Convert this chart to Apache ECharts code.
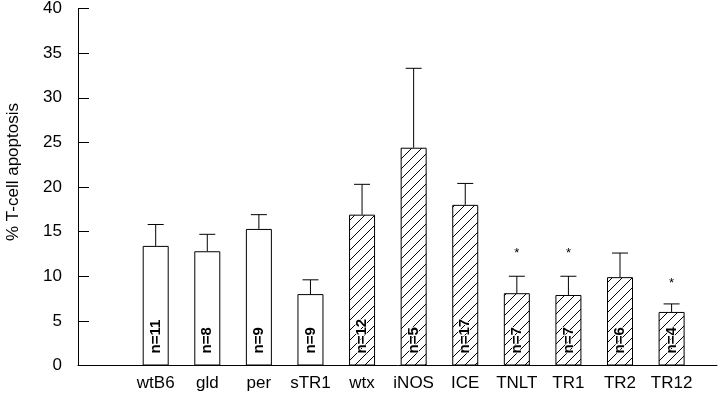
<!DOCTYPE html>
<html>
<head>
<meta charset="utf-8">
<script src="https://cdn.jsdelivr.net/npm/echarts@6/dist/echarts.min.js"></script>
<style>html,body{margin:0;padding:0;background:#fff}#c{width:720px;height:396px}</style>
</head>
<body>
<div id="c"></div>
<script>
const categories = ['wtB6','gld','per','sTR1','wtx','iNOS','ICE','TNLT','TR1','TR2','TR12'];
const means = [13.4, 12.8, 15.3, 8.0, 16.9, 24.4, 18.0, 8.1, 7.9, 9.9, 6.0];
const sem = [2.4, 1.9, 1.6, 1.6, 3.4, 8.9, 2.4, 1.9, 2.1, 2.7, 0.9];
const nLabels = ['n=11','n=8','n=9','n=9','n=12','n=5','n=17','n=7','n=7','n=6','n=4'];
const hatched = [false,false,false,false,true,true,true,true,true,true,true];
const starValues = [null,null,null,null,null,null,null,12.9,12.9,null,9.5];

// hatch pattern
const s = 10;
const cv = document.createElement('canvas');
cv.width = s; cv.height = s;
const cx = cv.getContext('2d');
cx.fillStyle = '#fff'; cx.fillRect(0,0,s,s);
cx.strokeStyle = '#000'; cx.lineWidth = 1;
cx.beginPath();
cx.moveTo(0,s); cx.lineTo(s,0);
cx.moveTo(-1,1); cx.lineTo(1,-1);
cx.moveTo(s-1,s+1); cx.lineTo(s+1,s-1);
cx.stroke();

const FONT = 'Liberation Sans, Arial, sans-serif';
const chart = echarts.init(document.getElementById('c'), null, {renderer:'canvas'});
const barData = categories.map((c,i)=>({
  value:[i, means[i]],
  itemStyle:{color: hatched[i] ? {image: cv, repeat:'repeat'} : '#fff', borderColor:'#000', borderWidth:1},
  label: hatched[i] ? {textBorderColor:'#fff', textBorderWidth:1.5} : {}
}));
const errData = categories.map((c,i)=>[i, means[i], sem[i]]);
const starData = starValues.map((v,i)=> v==null ? null : [i, v]).filter(d=>d);

chart.setOption({
  animation:false,
  backgroundColor:'#fff',
  grid:{left:78, right:3, top:7, bottom:30.5, containLabel:false},
  xAxis:{
    type:'value', min:-1.506, max:10.88,
    axisLine:{show:true, onZero:false, lineStyle:{color:'#000', width:1}},
    axisTick:{show:false},
    splitLine:{show:false},
    axisLabel:{customValues:[0,1,2,3,4,5,6,7,8,9,10], formatter:v=>categories[Math.round(v)],
      color:'#000', fontSize:17, fontFamily:FONT, margin:9}
  },
  yAxis:{
    type:'value', min:0, max:40, interval:5,
    axisLine:{show:true, onZero:false, lineStyle:{color:'#000', width:1}},
    axisTick:{show:true, inside:true, length:11, lineStyle:{color:'#000'}},
    splitLine:{show:false},
    axisLabel:{color:'#000', fontSize:17, fontFamily:FONT, margin:16}
  },
  graphic:[{
    type:'text', x:13, y:172, rotation:Math.PI/2,
    style:{text:'% T-cell apoptosis', fill:'#000', fontSize:17, fontFamily:FONT, align:'center', verticalAlign:'middle'}
  }],
  series:[
    {
      type:'bar', data:barData, barWidth:26,
      label:{show:true, position:'insideBottom', rotate:90, distance:12, align:'left', verticalAlign:'middle',
        formatter:p=>nLabels[p.dataIndex], fontWeight:'bold', fontSize:15, color:'#000', fontFamily:FONT}
    },
    {
      type:'custom', data:errData, z:3,
      renderItem:(params, api)=>{
        const x = api.value(0), v = api.value(1), e = api.value(2);
        const p1 = api.coord([x, v]);
        const p2 = api.coord([x, v+e]);
        return {type:'group', children:[
          {type:'line', shape:{x1:p1[0], y1:p1[1], x2:p2[0], y2:p2[1]}, style:{stroke:'#000', lineWidth:1}},
          {type:'line', shape:{x1:p2[0]-8, y1:p2[1], x2:p2[0]+8, y2:p2[1]}, style:{stroke:'#000', lineWidth:1}}
        ]};
      }
    },
    {
      type:'custom', data:starData, z:3,
      renderItem:(params, api)=>{
        const p = api.coord([api.value(0), api.value(1)]);
        return {type:'text', x:p[0], y:p[1]+3, style:{text:'*', fill:'#000', fontSize:13, align:'center', verticalAlign:'middle', fontFamily:FONT}};
      }
    }
  ]
});
</script>
</body>
</html>
